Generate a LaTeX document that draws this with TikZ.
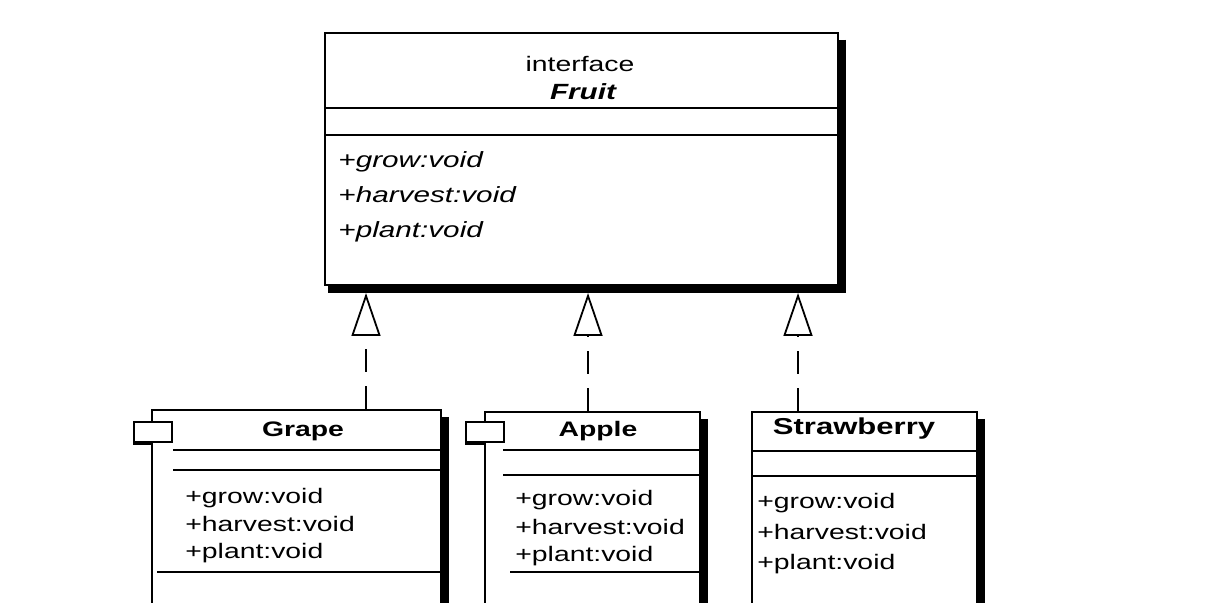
\documentclass[tikz,border=0pt]{standalone}
\usepackage{fontspec}
\setmainfont{Liberation Sans}[FakeStretch=1.35]
\usetikzlibrary{positioning,arrows.meta,fit}

\begin{document}
\begin{tikzpicture}[
  x=0.5pt, y=-0.5pt,
  font=\fontsize{10.5}{12}\selectfont,
  cls/.style={rectangle, draw, line width=1pt, inner sep=0pt, fill=white},
  shade/.style={line width=3.5pt},
  sep/.style={line width=1pt},
  tabbox/.style={rectangle, draw, line width=1pt, fill=white, inner sep=0pt,
                 minimum width=19pt, minimum height=10pt},
  ttl/.style={anchor=base, inner sep=0pt, font=\fontsize{10.5}{12}\selectfont\bfseries},
  meth/.style={anchor=base west, inner sep=0pt},
  imeth/.style={meth, font=\fontsize{11}{13}\selectfont\itshape},
  real/.style={line width=0.9pt, dash pattern=on 11.5pt off 7pt, shorten >=3.5pt,
               -{Triangle[open, length=21.5pt, width=14.5pt]}}
]
\useasboundingbox (0,0) rectangle (1209,603);
\clip (0,0) rectangle (1209,603);

%% interface Fruit
\coordinate (f1) at (325,33); \coordinate (f2) at (838,285);
\node[cls, fit=(f1)(f2)] (fruit) {};
\draw[shade] ([xshift=1.75pt,yshift=-4pt]fruit.north east)
  -- ([xshift=1.75pt,yshift=-1.75pt]fruit.south east)
  -- ([xshift=2pt,yshift=-1.75pt]fruit.south west);
\node[anchor=base, inner sep=0pt] (fst) at (580,72) {interface};
\node[ttl, font=\fontsize{11}{13}\selectfont\bfseries\itshape] (fname) at (583,100) {Fruit};
\draw[sep] (325,108) -- (838,108);
\draw[sep] (325,135) -- (838,135);
\node[imeth] (fm1) at (338,168) {+grow:void};
\node[imeth] (fm2) at (338,203) {+harvest:void};
\node[imeth] (fm3) at (338,238) {+plant:void};

%% Grape
\coordinate (g1) at (152,410); \coordinate (g2) at (441,650);
\node[cls, fit=(g1)(g2)] (grape) {};
\draw[shade] ([xshift=1.5pt,yshift=-4pt]grape.north east) -- ([xshift=1.5pt]grape.south east);
\node[tabbox] (grapetab) at (153,432) {};
\draw[line width=2pt] (grapetab.south west) -- (grapetab.south);
\node[ttl] (gname) at (303,437) {Grape};
\draw[sep] (173,450) -- (441,450);
\draw[sep] (173,470) -- (441,470);
\draw[sep] (157,572) -- (441,572);
\node[meth] (gm1) at (185,503) {+grow:void};
\node[meth] (gm2) at (185,531) {+harvest:void};
\node[meth] (gm3) at (185,559) {+plant:void};

%% Apple
\coordinate (a1) at (485,412); \coordinate (a2) at (700,650);
\node[cls, fit=(a1)(a2)] (apple) {};
\draw[shade] ([xshift=1.5pt,yshift=-4pt]apple.north east) -- ([xshift=1.5pt]apple.south east);
\node[tabbox] (appletab) at (485,432) {};
\draw[line width=2pt] (appletab.south west) -- (appletab.south);
\node[ttl] (aname) at (598,437) {Apple};
\draw[sep] (503,450) -- (700,450);
\draw[sep] (503,475) -- (700,475);
\draw[sep] (510,572) -- (700,572);
\node[meth] (am1) at (515,506) {+grow:void};
\node[meth] (am2) at (515,534) {+harvest:void};
\node[meth] (am3) at (515,561) {+plant:void};

%% Strawberry
\coordinate (s1) at (752,412); \coordinate (s2) at (977,650);
\node[cls, fit=(s1)(s2)] (straw) {};
\draw[shade] ([xshift=1.5pt,yshift=-4pt]straw.north east) -- ([xshift=1.5pt]straw.south east);
\node[ttl, font=\fontsize{11.5}{13}\selectfont\bfseries] (sname) at (854,435) {Strawberry};
\draw[sep] (752,451) -- (977,451);
\draw[sep] (752,476) -- (977,476);
\node[meth] (sm1) at (757,509) {+grow:void};
\node[meth] (sm2) at (757,539) {+harvest:void};
\node[meth] (sm3) at (757,569) {+plant:void};

\coordinate (gx) at (366,0); \coordinate (ax) at (588,0); \coordinate (sx) at (798,0);
\draw[real] (grape.north -| gx) -- (fruit.south -| gx);
\draw[real] (apple.north -| ax) -- (fruit.south -| ax);
\draw[real] (straw.north -| sx) -- (fruit.south -| sx);

\end{tikzpicture}
\end{document}
